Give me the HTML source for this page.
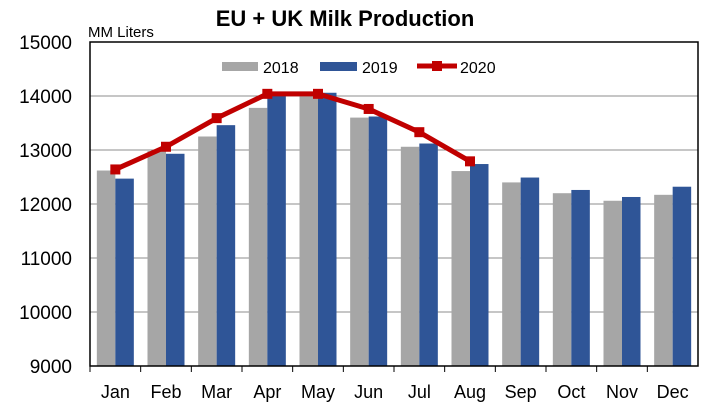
<!DOCTYPE html>
<html><head><meta charset="utf-8"><style>
body{margin:0;background:#fff;}
svg text{font-family:"Liberation Sans",Arial,sans-serif;fill:#000;}
</style></head><body>
<svg width="718" height="414" viewBox="0 0 718 414">
<text x="345" y="26" text-anchor="middle" font-size="22" font-weight="bold">EU + UK Milk Production</text>
<text x="88" y="37" font-size="15">MM Liters</text>
<g id="grid"></g><g id="bars"></g><g id="line"></g><g id="axes"></g>
<g>
<rect x="222" y="62" width="36" height="9" fill="#a6a6a6"/>
<text x="263" y="73" font-size="16">2018</text>
<rect x="320" y="62" width="37" height="9" fill="#2f5597"/>
<text x="362" y="73" font-size="16">2019</text>
<line x1="417" y1="66" x2="457" y2="66" stroke="#c00000" stroke-width="5"/>
<rect x="432" y="61" width="10" height="10" fill="#c00000"/>
<text x="460" y="73" font-size="16">2020</text>
</g>
</svg>
<script>
const months=["Jan","Feb","Mar","Apr","May","Jun","Jul","Aug","Sep","Oct","Nov","Dec"];
const v2018=[12620,12980,13250,13780,14020,13600,13060,12610,12400,12200,12060,12170];
const v2019=[12470,12930,13460,14040,14060,13620,13120,12740,12490,12260,12130,12320];
const v2020=[12640,13060,13590,14040,14040,13760,13330,12790];
const yTicks=[9000,10000,11000,12000,13000,14000,15000];
const NS="http://www.w3.org/2000/svg";
const L=90,R=698,T=42,B=366,ymin=9000,ymax=15000;
const cw=(R-L)/months.length;
function y(v){return B-(v-ymin)/(ymax-ymin)*(B-T);}
function xc(i){return L+cw*(i+0.5);}
function mk(tag,attrs,parent){const e=document.createElementNS(NS,tag);for(const k in attrs)e.setAttribute(k,attrs[k]);document.getElementById(parent).appendChild(e);return e;}
yTicks.forEach(t=>{
 if(t>ymin&&t<ymax){const g=mk("line",{x1:L,x2:R,y1:y(t),y2:y(t),stroke:"#8c8c8c","stroke-width":1},"grid");
 
 }
 const tx=mk("text",{x:72,y:y(t)+7,"text-anchor":"end","font-size":"19"},"axes");tx.textContent=t;
 
 
});
const bw=18.5;
months.forEach((m,i)=>{
 const c=xc(i);
 const a=mk("rect",{x:c-bw,y:y(v2018[i]),width:bw,height:B-y(v2018[i]),fill:"#a6a6a6"},"bars");
 
 
 const b=mk("rect",{x:c,y:y(v2019[i]),width:bw,height:B-y(v2019[i]),fill:"#2f5597"},"bars");
 
 
 const tx=mk("text",{x:c,y:398,"text-anchor":"middle","font-size":"18"},"axes");tx.textContent=m;
 
 
 const tk=mk("line",{x1:L+cw*i,x2:L+cw*i,y1:B,y2:B+6,stroke:"#000"},"axes");
 
 
});
const fr=mk("rect",{x:L,y:T,width:R-L,height:B-T,fill:"none",stroke:"#000","stroke-width":1.5},"axes");


const pl=mk("polyline",{points:v2020.map((v,i)=>xc(i)+","+y(v)).join(" "),fill:"none",stroke:"#c00000","stroke-width":5,"stroke-linejoin":"round"},"line");


v2020.forEach((v,i)=>{
 const p=mk("rect",{x:xc(i)-5,y:y(v)-5,width:10,height:10,fill:"#c00000"},"line");
 
 
});
</script>
</body></html>
